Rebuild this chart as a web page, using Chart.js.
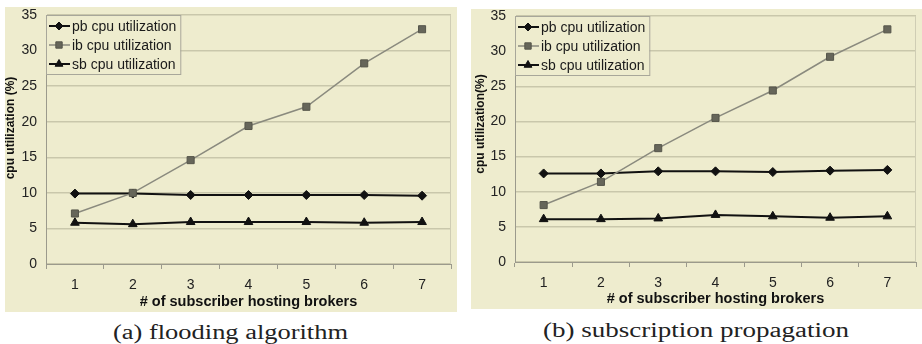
<!DOCTYPE html>
<html>
<head>
<meta charset="utf-8">
<script src="https://cdn.jsdelivr.net/npm/chart.js@4/dist/chart.umd.min.js"></script>
<style>
  body { margin: 0; background: #fff; width: 922px; height: 344px; position: relative; overflow: hidden; }
  .panel { position: absolute; background: #EEECCE; }
  .caption { position: absolute; font-family: "Liberation Serif", "Times New Roman", serif; font-size: 20px; color: #222; white-space: nowrap; transform-origin: 0 0; }
</style>
</head>
<body>
<div class="panel" style="left:5px; top:7px; width:452px; height:305px;"><canvas id="flooding"></canvas></div>
<div class="panel" style="left:471px; top:9px; width:451px; height:300px;"><canvas id="subProp"></canvas></div>
<div class="caption" id="capA" data-left="113" data-width="235" style="top:321px;">(a) flooding algorithm</div>
<div class="caption" id="capB" data-left="543" data-width="306" style="top:319px;">(b) subscription propagation</div>
<script>
// data
const brokers = ['1', '2', '3', '4', '5', '6', '7'];
const yTickValues = [0, 5, 10, 15, 20, 25, 30, 35];
const seriesNames = ['pb cpu utilization', 'ib cpu utilization', 'sb cpu utilization'];

const pbFlooding = [9.9, 9.9, 9.7, 9.7, 9.7, 9.7, 9.6];
const ibFlooding = [7.1, 10.0, 14.6, 19.4, 22.1, 28.2, 33.0];
const sbFlooding = [5.8, 5.6, 5.9, 5.9, 5.9, 5.8, 5.9];

const pbSubProp = [12.6, 12.6, 12.9, 12.9, 12.8, 13.0, 13.1];
const ibSubProp = [8.1, 11.4, 16.2, 20.5, 24.4, 29.2, 33.1];
const sbSubProp = [6.1, 6.1, 6.2, 6.7, 6.5, 6.3, 6.5];

const FONT = '"Liberation Sans", Arial, sans-serif';

// captions are a bit wider than the font gives, stretch them
document.querySelectorAll('.caption').forEach(el => {
    const w = el.getBoundingClientRect().width;
    el.style.left = el.dataset.left + 'px';
    el.style.transform = 'scaleX(' + (el.dataset.width / w) + ')';
});

function makeDatasets(pb, ib, sb) {
    return [
        { label: seriesNames[0], data: pb, borderColor: '#111', backgroundColor: '#111', borderWidth: 2,
          pointStyle: 'rectRot', pointRadius: 4.5, pointBorderWidth: 1, order: 2 },
        { label: seriesNames[1], data: ib, borderColor: '#8a8a7e', backgroundColor: '#66665a', borderWidth: 1.5,
          pointStyle: 'rect', pointRadius: 5, pointBorderColor: '#55554a', pointBorderWidth: 1, order: 0 },
        { label: seriesNames[2], data: sb, borderColor: '#111', backgroundColor: '#111', borderWidth: 2,
          pointStyle: 'triangle', pointRadius: 5, pointBorderWidth: 1, order: 1 }
    ];
}

// legend box: line sample with marker, like the spreadsheet legend
const boxLegend = {
    id: 'boxLegend',
    afterDraw(chart) {
        const ctx = chart.ctx;
        const area = chart.chartArea;
        ctx.save();
        ctx.font = '14px ' + FONT;
        let maxW = 0;
        chart.data.datasets.forEach(ds => { maxW = Math.max(maxW, ctx.measureText(ds.label).width); });
        const x0 = area.left, y0 = area.top;
        const w = maxW + 30, h = 59;
        ctx.fillStyle = '#EEECCE';
        ctx.fillRect(x0, y0, w, h);
        ctx.strokeStyle = '#a8a79a';
        ctx.lineWidth = 1;
        ctx.strokeRect(x0 + 0.5, y0 + 0.5, w, h);
        chart.data.datasets.forEach((ds, i) => {
            const y = y0 + 11 + i * 19;
            ctx.strokeStyle = ds.borderColor;
            ctx.lineWidth = ds.borderWidth;
            ctx.beginPath();
            ctx.moveTo(x0 + 3, y);
            ctx.lineTo(x0 + 24, y);
            ctx.stroke();
            ctx.fillStyle = ds.backgroundColor;
            ctx.strokeStyle = ds.pointBorderColor || ds.borderColor;
            ctx.lineWidth = 1;
            Chart.helpers.drawPoint(ctx, { pointStyle: ds.pointStyle, radius: ds.pointRadius - 0.5, rotation: 0, borderWidth: 1 }, x0 + 13, y);
            ctx.fillStyle = '#1a1a1a';
            ctx.textBaseline = 'middle';
            ctx.textAlign = 'left';
            ctx.fillText(ds.label, x0 + 26, y + 1);
        });
        ctx.restore();
    }
};

// y title is set off-centre in the original, so it is drawn by hand
const yTitle = {
    id: 'yTitle',
    afterDraw(chart, args, opts) {
        const ctx = chart.ctx;
        ctx.save();
        ctx.translate(opts.x, opts.y);
        ctx.rotate(-Math.PI / 2);
        ctx.font = 'bold 12px ' + FONT;
        ctx.fillStyle = '#111';
        ctx.textAlign = 'center';
        ctx.textBaseline = 'middle';
        ctx.fillText(opts.text, 0, 0);
        ctx.restore();
        // faint right border of the plot area
        const a = chart.chartArea;
        ctx.save();
        ctx.strokeStyle = '#cfcdb4';
        ctx.lineWidth = 1;
        ctx.beginPath();
        ctx.moveTo(a.right - 0.5, a.top);
        ctx.lineTo(a.right - 0.5, a.bottom);
        ctx.stroke();
        ctx.restore();
    }
};

function makeChart(id, datasets, geo) {
    return new Chart(document.getElementById(id), {
        type: 'line',
        data: { labels: brokers, datasets: datasets },
        plugins: [boxLegend, yTitle],
        options: {
            responsive: true,
            maintainAspectRatio: false,
            animation: false,
            layout: { padding: { top: geo.top, right: geo.right, left: 0, bottom: 0 } },
            plugins: {
                legend: { display: false },
                tooltip: { enabled: false },
                yTitle: { text: geo.yTitle, x: geo.titleX, y: geo.titleY }
            },
            scales: {
                x: {
                    offset: true,
                    grid: { offset: true, drawOnChartArea: false, drawTicks: true, tickLength: 5, color: '#9b9a8c' },
                    border: { color: '#9b9a8c' },
                    ticks: { font: { family: FONT, size: 14 }, color: '#222', padding: 8 },
                    title: { display: true, text: '# of subscriber hosting brokers', font: { family: FONT, size: 14.5, weight: 'bold' },
                             color: '#111', padding: { top: 0, bottom: 1 } },
                    afterFit(scale) { scale.height = geo.xHeight; }
                },
                y: {
                    min: 0, max: 35,
                    afterBuildTicks(scale) { scale.ticks = yTickValues.map(v => ({ value: v })); },
                    grid: { color: '#c9c7ab', drawTicks: false, lineWidth: 1.5 },
                    border: { color: '#9b9a8c' },
                    ticks: { font: { family: FONT, size: 14 }, color: '#222', padding: 9 },
                    afterFit(scale) {
                        scale.width = geo.yWidth;
                        scale.paddingTop = 0;
                        scale.paddingBottom = 0;
                    }
                }
            }
        }
    });
}

makeChart('flooding', makeDatasets(pbFlooding, ibFlooding, sbFlooding),
    { top: 8, right: 4, xHeight: 48, yWidth: 41, yTitle: 'cpu utilization (%)', titleX: 6, titleY: 121 });
makeChart('subProp', makeDatasets(pbSubProp, ibSubProp, sbSubProp),
    { top: 7, right: 3, xHeight: 47, yWidth: 44, yTitle: 'cpu utilization(%)', titleX: 10, titleY: 115 });
</script>
</body>
</html>
